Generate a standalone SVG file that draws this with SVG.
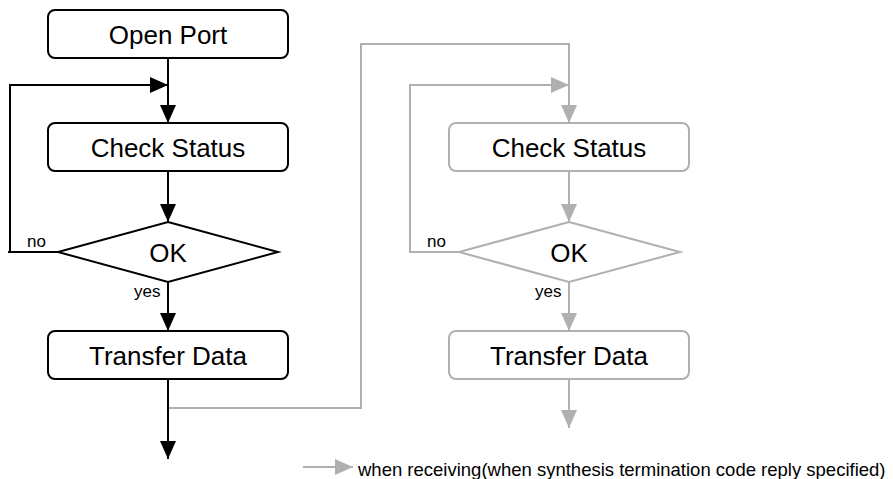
<svg xmlns="http://www.w3.org/2000/svg" width="893" height="479" viewBox="0 0 893 479">
<style>
.bx{fill:#fff;stroke:#000;stroke-width:2}
.gbx{fill:#fff;stroke:#b0b0b0;stroke-width:2}
.t{font-family:"Liberation Sans",Arial,sans-serif;font-size:26px;fill:#000;text-anchor:middle}
.s{font-family:"Liberation Sans",Arial,sans-serif;font-size:17px;fill:#000}
.lg{font-family:"Liberation Sans",Arial,sans-serif;font-size:18.5px;fill:#000}
.k{fill:none;stroke:#000;stroke-width:2}
.g{fill:none;stroke:#b0b0b0;stroke-width:2}
</style>
<defs>
<marker id="ab" markerUnits="userSpaceOnUse" markerWidth="18" markerHeight="16" refX="18" refY="8" orient="auto"><path d="M0,0 L18,8 L0,16 z" fill="#000"/></marker>
<marker id="ag" markerUnits="userSpaceOnUse" markerWidth="18" markerHeight="16" refX="18" refY="8" orient="auto"><path d="M0,0 L18,8 L0,16 z" fill="#b0b0b0"/></marker>
</defs>
<rect width="893" height="479" fill="#fff"/>
<g id="connectors">
<path class="g" d="M168,408 H361 V44 H569 V123" marker-end="url(#ag)"/>
<path class="g" d="M459,252 H410 V85 H569" marker-end="url(#ag)"/>
<path class="g" d="M569,171 V222" marker-end="url(#ag)"/>
<path class="g" d="M569,282 V331" marker-end="url(#ag)"/>
<path class="g" d="M569,379 V428" marker-end="url(#ag)"/>
<path class="k" d="M168,58 V123" marker-end="url(#ab)"/>
<path class="k" d="M58,252 H8 M10,252 V85 H168" marker-end="url(#ab)"/>
<path class="k" d="M168,171 V222" marker-end="url(#ab)"/>
<path class="k" d="M168,282 V331" marker-end="url(#ab)"/>
<path class="k" d="M168,379 V459" marker-end="url(#ab)"/>
<text class="s" x="27" y="247">no</text>
<text class="s" x="134" y="297">yes</text>
<text class="s" x="427" y="247">no</text>
<text class="s" x="535" y="297">yes</text>
</g>
<g id="open-port"><rect class="bx" x="48" y="10" width="240" height="48" rx="7"/><text class="t" x="168" y="44">Open Port</text></g>
<g id="check-status"><rect class="bx" x="48" y="123" width="240" height="48" rx="7"/><text class="t" x="168" y="157">Check Status</text></g>
<g id="ok"><polygon class="bx" points="168,222 278,252 168,282 58,252"/><text class="t" x="168" y="262">OK</text></g>
<g id="transfer-data"><rect class="bx" x="48" y="331" width="240" height="48" rx="7"/><text class="t" x="168" y="365">Transfer Data</text></g>
<g id="check-status-r"><rect class="gbx" x="449" y="123" width="240" height="48" rx="7"/><text class="t" x="569" y="157">Check Status</text></g>
<g id="ok-r"><polygon class="gbx" points="569,222 680,252 569,282 459,252"/><text class="t" x="569" y="262">OK</text></g>
<g id="transfer-data-r"><rect class="gbx" x="449" y="331" width="240" height="48" rx="7"/><text class="t" x="569" y="365">Transfer Data</text></g>
<g id="legend"><path class="g" d="M303,467 H353" marker-end="url(#ag)"/><text class="lg" x="358" y="476">when receiving(when synthesis termination code reply specified)</text></g>
</svg>
